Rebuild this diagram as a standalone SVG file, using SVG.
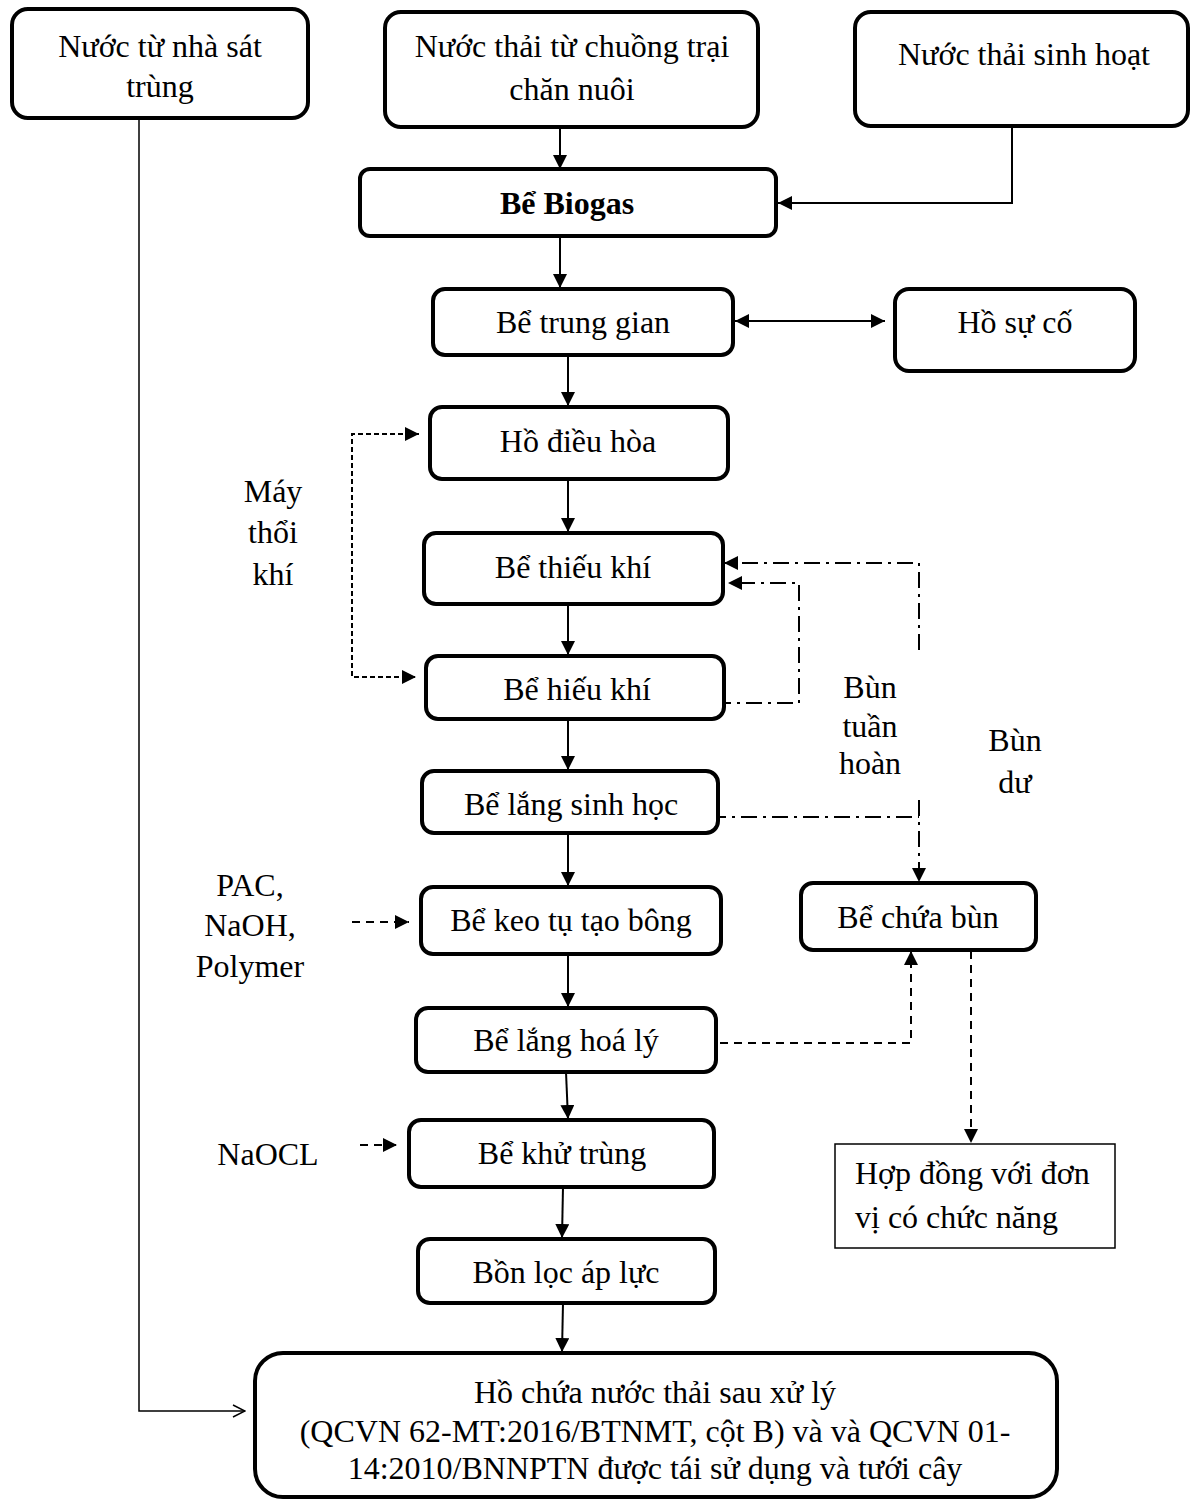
<svg xmlns="http://www.w3.org/2000/svg" width="1192" height="1499" viewBox="0 0 1192 1499">
  <style>
    .box { fill: #fff; stroke: #000; stroke-width: 4; }
    .plain { fill: #fff; stroke: #000; stroke-width: 1.5; }
    text { font-family: "Liberation Serif", "Times New Roman", serif; font-size: 32px; fill: #000; }
    .c { text-anchor: middle; }
    .b { font-weight: bold; }
    .ln { fill: none; stroke: #000; stroke-width: 2; }
    .thin { fill: none; stroke: #000; stroke-width: 1.5; }
    .dash { fill: none; stroke: #000; stroke-width: 2; stroke-dasharray: 5 3; }
    .dash2 { fill: none; stroke: #000; stroke-width: 2; stroke-dasharray: 8 6; }
    .dashdot { fill: none; stroke: #000; stroke-width: 2; stroke-dasharray: 16 6 3 6; }
  </style>
  <defs>
    <marker id="arr" viewBox="0 0 12 12" refX="12" refY="6" markerWidth="14" markerHeight="14" markerUnits="userSpaceOnUse" orient="auto-start-reverse">
      <path d="M0,0 L12,6 L0,12 Z" fill="#000"/>
    </marker>
    <marker id="open" viewBox="0 0 14 14" refX="13" refY="7" markerWidth="14" markerHeight="14" markerUnits="userSpaceOnUse" orient="auto">
      <path d="M1,1 L13,7 L1,13" fill="none" stroke="#000" stroke-width="1.5"/>
    </marker>
  </defs>

  <!-- connectors -->
  <g id="connectors">
    <!-- main line -->
    <line class="ln" x1="560" y1="127" x2="560" y2="169" marker-end="url(#arr)"/>
    <polyline class="ln" points="1012,126 1012,203 778,203" marker-end="url(#arr)"/>
    <line class="ln" x1="560" y1="237" x2="560" y2="288" marker-end="url(#arr)"/>
    <line class="ln" x1="735" y1="321" x2="885" y2="321" marker-start="url(#arr)" marker-end="url(#arr)"/>
    <line class="ln" x1="568" y1="355" x2="568" y2="406" marker-end="url(#arr)"/>
    <line class="ln" x1="568" y1="479" x2="568" y2="532" marker-end="url(#arr)"/>
    <line class="ln" x1="568" y1="600" x2="568" y2="655" marker-end="url(#arr)"/>
    <line class="ln" x1="568" y1="719" x2="568" y2="770" marker-end="url(#arr)"/>
    <line class="ln" x1="568" y1="833" x2="568" y2="886" marker-end="url(#arr)"/>
    <line class="ln" x1="568" y1="954" x2="568" y2="1007" marker-end="url(#arr)"/>
    <line class="ln" x1="566" y1="1072" x2="568" y2="1119" marker-end="url(#arr)"/>
    <line class="ln" x1="563" y1="1187" x2="562" y2="1238" marker-end="url(#arr)"/>
    <line class="ln" x1="563" y1="1303" x2="562" y2="1352" marker-end="url(#arr)"/>
    <!-- bypass from disinfection house -->
    <polyline class="thin" points="139,118 139,1411 245,1411" marker-end="url(#open)"/>
    <!-- blower -->
    <polyline class="dash" points="419,434 352,434 352,677 416,677" marker-start="url(#arr)" marker-end="url(#arr)"/>
    <!-- sludge recirculation -->
    <polyline class="dashdot" points="919,650 919,563 724,563" marker-end="url(#arr)"/>
    <polyline class="dashdot" points="715,703 799,703 799,583 728,583" marker-end="url(#arr)"/>
    <!-- excess sludge -->
    <line class="dashdot" x1="710" y1="817" x2="919" y2="817"/>
    <line class="dashdot" x1="919" y1="800" x2="919" y2="882" marker-end="url(#arr)"/>
    <polyline class="dash2" points="720,1043 911,1043 911,951" marker-end="url(#arr)"/>
    <line class="dash2" x1="971" y1="951" x2="971" y2="1143" marker-end="url(#arr)"/>
    <!-- chemicals -->
    <line class="dash2" x1="352" y1="922" x2="409" y2="922" marker-end="url(#arr)"/>
    <line class="dash2" x1="360" y1="1145" x2="397" y2="1145" marker-end="url(#arr)"/>
  </g>

  <!-- nodes -->
  <g id="n-sat-trung">
    <rect class="box" x="12" y="9" width="296" height="109" rx="16"/>
    <text class="c" x="160" y="57">Nước từ nhà sát</text>
    <text class="c" x="160" y="97">trùng</text>
  </g>
  <g id="n-chuong-trai">
    <rect class="box" x="385" y="12" width="373" height="115" rx="16"/>
    <text class="c" x="572" y="57">Nước thải từ chuồng trại</text>
    <text class="c" x="572" y="100">chăn nuôi</text>
  </g>
  <g id="n-sinh-hoat">
    <rect class="box" x="855" y="12" width="333" height="114" rx="16"/>
    <text class="c" x="1024" y="65">Nước thải sinh hoạt</text>
  </g>
  <g id="n-biogas">
    <rect class="box" x="360" y="169" width="416" height="67" rx="10"/>
    <text class="c b" x="567" y="214">Bể Biogas</text>
  </g>
  <g id="n-trung-gian">
    <rect class="box" x="433" y="289" width="300" height="66" rx="12"/>
    <text class="c" x="583" y="333">Bể trung gian</text>
  </g>
  <g id="n-su-co">
    <rect class="box" x="895" y="289" width="240" height="82" rx="14"/>
    <text class="c" x="1015" y="333">Hồ sự cố</text>
  </g>
  <g id="n-dieu-hoa">
    <rect class="box" x="430" y="407" width="298" height="72" rx="12"/>
    <text class="c" x="578" y="452">Hồ điều hòa</text>
  </g>
  <g id="n-thieu-khi">
    <rect class="box" x="424" y="533" width="299" height="71" rx="12"/>
    <text class="c" x="573" y="578">Bể thiếu khí</text>
  </g>
  <g id="n-hieu-khi">
    <rect class="box" x="426" y="656" width="298" height="63" rx="12"/>
    <text class="c" x="577" y="700">Bể hiếu khí</text>
  </g>
  <g id="n-lang-sinh-hoc">
    <rect class="box" x="422" y="771" width="296" height="62" rx="12"/>
    <text class="c" x="571" y="815">Bể lắng sinh học</text>
  </g>
  <g id="n-keo-tu">
    <rect class="box" x="421" y="887" width="300" height="67" rx="12"/>
    <text class="c" x="571" y="931">Bể keo tụ tạo bông</text>
  </g>
  <g id="n-chua-bun">
    <rect class="box" x="801" y="883" width="235" height="67" rx="12"/>
    <text class="c" x="918" y="928">Bể chứa bùn</text>
  </g>
  <g id="n-lang-hoa-ly">
    <rect class="box" x="416" y="1008" width="300" height="64" rx="12"/>
    <text class="c" x="566" y="1051">Bể lắng hoá lý</text>
  </g>
  <g id="n-khu-trung">
    <rect class="box" x="409" y="1120" width="305" height="67" rx="12"/>
    <text class="c" x="562" y="1164">Bể khử trùng</text>
  </g>
  <g id="n-hop-dong">
    <rect class="plain" x="835" y="1144" width="280" height="104"/>
    <text x="855" y="1184">Hợp đồng với đơn</text>
    <text x="855" y="1228">vị có chức năng</text>
  </g>
  <g id="n-loc-ap-luc">
    <rect class="box" x="418" y="1239" width="297" height="64" rx="12"/>
    <text class="c" x="566" y="1283">Bồn lọc áp lực</text>
  </g>
  <g id="n-ho-chua">
    <rect class="box" x="255" y="1353" width="802" height="144" rx="28"/>
    <text class="c" x="655" y="1403">Hồ chứa nước thải sau xử lý</text>
    <text class="c" x="655" y="1442">(QCVN 62-MT:2016/BTNMT, cột B) và và QCVN 01-</text>
    <text class="c" x="655" y="1479">14:2010/BNNPTN được tái sử dụng và tưới cây</text>
  </g>

  <!-- side labels -->
  <g id="labels">
    <text class="c" x="273" y="502">Máy</text>
    <text class="c" x="273" y="543">thổi</text>
    <text class="c" x="273" y="585">khí</text>
    <text class="c" x="870" y="698">Bùn</text>
    <text class="c" x="870" y="737">tuần</text>
    <text class="c" x="870" y="774">hoàn</text>
    <text class="c" x="1015" y="751">Bùn</text>
    <text class="c" x="1015" y="793">dư</text>
    <text class="c" x="250" y="896">PAC,</text>
    <text class="c" x="250" y="936">NaOH,</text>
    <text class="c" x="250" y="977">Polymer</text>
    <text class="c" x="268" y="1165">NaOCL</text>
  </g>
</svg>
